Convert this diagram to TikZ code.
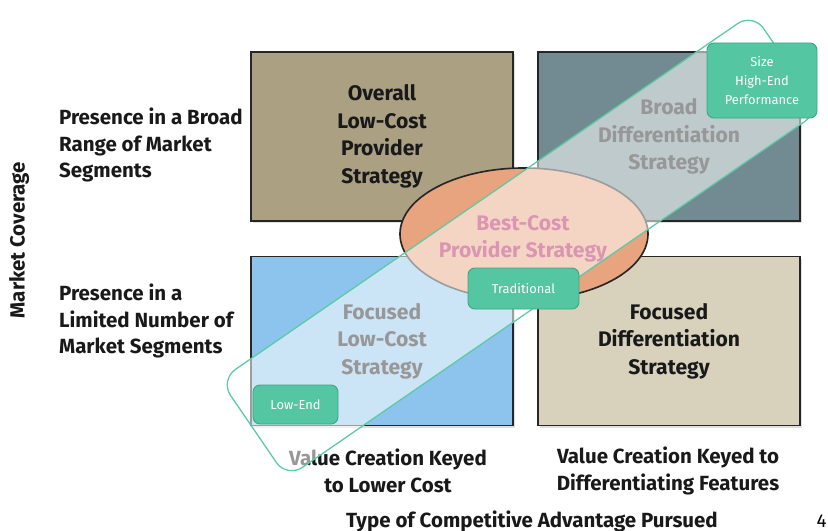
\documentclass[tikz,border=0pt]{standalone}
\usepackage{fontspec}
\setmainfont{Fira Sans}
\usetikzlibrary{shapes.geometric,shadows}
\definecolor{lowcostbrown}{RGB}{172,160,131}
\definecolor{broadslate}{RGB}{114,138,146}
\definecolor{focusblue}{RGB}{141,196,237}
\definecolor{focustan}{RGB}{216,210,188}
\definecolor{bestpeach}{RGB}{232,164,126}
\definecolor{bestpink}{RGB}{175,20,85}
\definecolor{bandgreen}{RGB}{92,202,165}
\definecolor{tagfill}{RGB}{84,198,161}
\definecolor{tagedge}{RGB}{58,168,132}
\begin{document}
\begin{tikzpicture}
[x=0.03cm,y=-0.03cm,
 quadrant/.style={draw=black!85,line width=1.6pt,minimum width=7.86cm,
   minimum height=5.07cm,inner sep=0pt,align=center,text=black!90,
   font=\fontsize{18}{23.5}\selectfont\bfseries,
   drop shadow={opacity=0.25,shadow xshift=2pt,shadow yshift=-2pt}},
 bestcost/.style={ellipse,draw=black!85,line width=1.4pt,fill=bestpeach,
   minimum width=7.44cm,minimum height=3.96cm,inner sep=0pt},
 besttext/.style={align=center,text=bestpink,
   font=\fontsize{18}{23.5}\selectfont\bfseries},
 axislabel/.style={align=left,text=black!90,
   font=\fontsize{17.5}{23}\selectfont\bfseries},
 bottomlabel/.style={align=center,text=black!90,
   font=\fontsize{17.5}{23}\selectfont\bfseries},
 tag/.style={draw=tagedge,fill=tagfill,line width=0.8pt,rounded corners=6pt,
   inner sep=0pt,text=white,align=center,font=\fontsize{11}{16}\selectfont}]
\useasboundingbox (0,0) rectangle (828,531);
%% the four strategy boxes
\foreach \boxname/\x/\y/\boxcolor/\boxtext in {
  olc/382/136.5/lowcostbrown/{Overall\\Low-Cost\\Provider\\Strategy},
  bds/669/136.5/broadslate/{Broad\\Differentiation\\Strategy},
  flc/382/341/focusblue/{Focused\\Low-Cost\\Strategy},
  fds/669/341/focustan/{Focused\\Differentiation\\Strategy}} {
  \node (\boxname) at (\x,\y) [quadrant,fill=\boxcolor] {\boxtext};
}
%% best-cost in the middle
\node (bcp) at (524,234) [bestcost] {};
\node (bcptext) at (523,239) [besttext] {Best-Cost\\Provider Strategy};
%% labels round the grid
\node (broad) at (55,145) [axislabel,anchor=west] {Presence in a Broad\\Range of Market\\Segments};
\node (limited) at (55,321) [axislabel,anchor=west] {Presence in a\\Limited Number of\\Market Segments};
\node (coverage) at (19,240) [axislabel,rotate=90] {Market Coverage};
\node (lowcost) at (388,471) [bottomlabel] {Value Creation Keyed\\to Lower Cost};
\node (difffeat) at (668,471) [bottomlabel] {Value Creation Keyed to\\Differentiating Features};
\node (advantage) at (532,521) [bottomlabel] {Type of Competitive Advantage Pursued};
\node (pagenum) at (828,521) [anchor=east,inner sep=1pt,font=\fontsize{16}{18}\selectfont] {4};
%% the band of products
\coordinate (bandleft) at (220,380);
\coordinate (bandbottom) at (287,478);
\coordinate (bandright) at (820,111);
\coordinate (bandtop) at (753,13);
\draw[rounded corners=16pt,fill=white,fill opacity=0.55,draw=bandgreen,line width=1.1pt]
  (bandleft) -- (bandbottom) -- (bandright) -- (bandtop) -- cycle;
%% product tags
\node (highend) at (762,80.5) [tag,minimum width=3.3cm,minimum height=2.25cm] {Size\\High-End\\Performance};
\node (traditional) at (523.5,288.5) [tag,minimum width=3.33cm,minimum height=1.23cm] {Traditional};
\node (lowend) at (295.5,404.5) [tag,minimum width=2.55cm,minimum height=1.17cm] {Low-End};
\end{tikzpicture}
\end{document}
